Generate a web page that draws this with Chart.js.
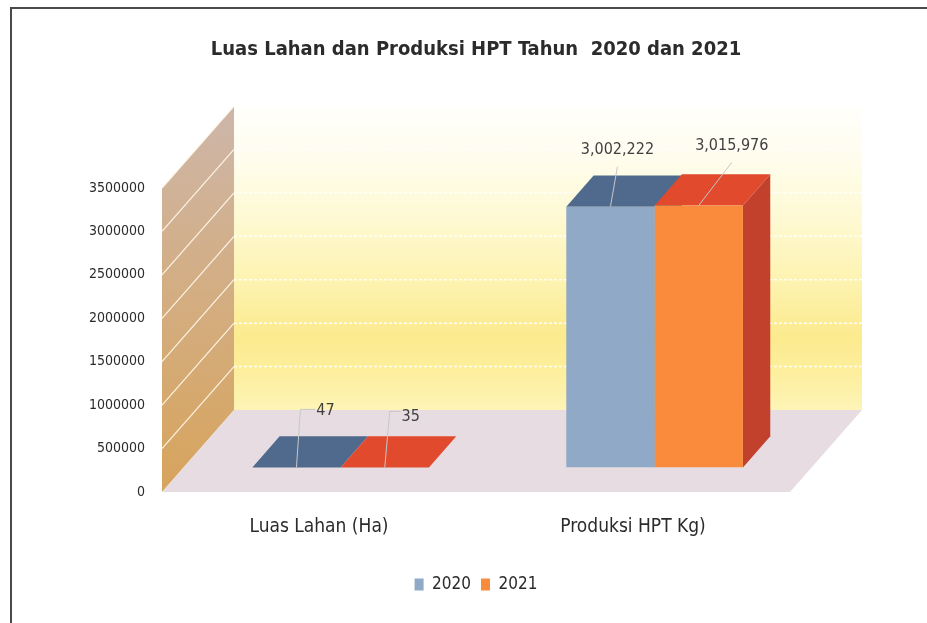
<!DOCTYPE html>
<html>
<head>
<meta charset="utf-8">
<script src="https://cdn.jsdelivr.net/npm/chart.js@4.4.0/dist/chart.umd.min.js"></script>
<style>
   html, body { margin: 0; padding: 0; background: #fff; }
</style>
</head>
<body>
<canvas id="myChart" width="927" height="623"></canvas>
<script>
"use strict";

// data
const categories = ["Luas Lahan (Ha)", "Produksi HPT Kg)"];
const seriesNames = ["2020", "2021"];
const values2020 = [47, 3002222];
const values2021 = [35, 3015976];
const yTickValues = [0, 500000, 1000000, 1500000, 2000000, 2500000, 3000000, 3500000];

const FONT = "'DejaVu Sans Condensed', 'Liberation Sans Narrow', 'Open Sans', sans-serif";
const TEXT = "#2b2b2b";

// 3d look: depth of the whole box and where the bars sit in it
const DEPTH_X = 72;
const DEPTH_Y = -82;
const BAR_FRONT = 0.3;
const BAR_DEPTH = 0.38;

const faceColors = [
   { front: "#8fa9c7", top: "#4f6a8c", side: "#45607f" },
   { front: "#fa8b3c", top: "#e24a2e", side: "#c2412d" },
];

// label positions relative to the front-top centre of each bar [dataset][category]
const labelOffsets = [
   [{ tx: 29, ty: -57, lx: 4, ly: -58 }, { tx: 7, ty: -57, lx: 7, ly: -40 }],
   [{ tx: 26, ty: -51, lx: 5, ly: -56 }, { tx: 33, ty: -60, lx: 33, ly: -43 }],
];

const poly = function (c, pts, fill) {
   c.beginPath();
   c.moveTo(pts[0][0], pts[0][1]);
   for (let i = 1; i < pts.length; i++) c.lineTo(pts[i][0], pts[i][1]);
   c.closePath();
   c.fillStyle = fill;
   c.fill();
};

const threeD = {
   id: "threeD",
   beforeDraw(chart) {
      const c = chart.ctx;
      c.save();
      c.fillStyle = "#ffffff";
      c.fillRect(0, 0, chart.width, chart.height);
      c.strokeStyle = "#4a4a4a";
      c.lineWidth = 2;
      c.strokeRect(11, 8, chart.width + 20, chart.height + 20);
      c.restore();
   },
   beforeDatasetsDraw(chart) {
      const c = chart.ctx;
      const a = chart.chartArea;
      const y = chart.scales.y;
      const top = y.getPixelForValue(yTickValues[yTickValues.length - 1]);
      const bottom = y.getPixelForValue(0);

      c.save();
      // back wall
      const g = c.createLinearGradient(0, top + DEPTH_Y, 0, bottom + DEPTH_Y);
      g.addColorStop(0, "#fffffb");
      g.addColorStop(0.15, "#fffdf0");
      g.addColorStop(0.35, "#fefad6");
      g.addColorStop(0.58, "#fdf3b0");
      g.addColorStop(0.76, "#fcea8e");
      g.addColorStop(0.88, "#fdef9f");
      g.addColorStop(1, "#fdf4b6");
      poly(c, [
         [a.left + DEPTH_X, top + DEPTH_Y],
         [a.right + DEPTH_X, top + DEPTH_Y],
         [a.right + DEPTH_X, bottom + DEPTH_Y],
         [a.left + DEPTH_X, bottom + DEPTH_Y],
      ], g);

      // side wall
      const s = c.createLinearGradient(0, top + DEPTH_Y, 0, bottom);
      s.addColorStop(0, "#cdb6a9");
      s.addColorStop(0.45, "#d3ae85");
      s.addColorStop(1, "#d7a45c");
      poly(c, [
         [a.left, top],
         [a.left + DEPTH_X, top + DEPTH_Y],
         [a.left + DEPTH_X, bottom + DEPTH_Y],
         [a.left, bottom],
      ], s);

      // floor
      poly(c, [
         [a.left, bottom],
         [a.right, bottom],
         [a.right + DEPTH_X, bottom + DEPTH_Y],
         [a.left + DEPTH_X, bottom + DEPTH_Y],
      ], "#e7dce1");

      // gridlines on the walls
      yTickValues.forEach((v) => {
         if (v === 0) return;
         const py = y.getPixelForValue(v);
         c.setLineDash([]);
         c.strokeStyle = "rgba(255,248,235,0.95)";
         c.lineWidth = 1.2;
         c.beginPath();
         c.moveTo(a.left, py);
         c.lineTo(a.left + DEPTH_X, py + DEPTH_Y);
         c.stroke();
         c.setLineDash([3, 2]);
         c.strokeStyle = "rgba(255,255,255,0.9)";
         c.lineWidth = 1.5;
         c.beginPath();
         c.moveTo(a.left + DEPTH_X, py + DEPTH_Y);
         c.lineTo(a.right + DEPTH_X, py + DEPTH_Y);
         c.stroke();
      });
      c.setLineDash([]);

      // side and top faces of the bars
      const fx = DEPTH_X * BAR_FRONT;
      const fy = DEPTH_Y * BAR_FRONT;
      const bx = DEPTH_X * BAR_DEPTH;
      const by = DEPTH_Y * BAR_DEPTH;
      chart.data.datasets.forEach((ds, i) => {
         chart.getDatasetMeta(i).data.forEach((bar) => {
            const l = bar.x - bar.width / 2 + fx;
            const r = bar.x + bar.width / 2 + fx;
            const t = bar.y + fy;
            const b = bar.base + fy;
            poly(c, [[r, t], [r + bx, t + by], [r + bx, b + by], [r, b]], faceColors[i].side);
            poly(c, [[l, t], [l + bx, t + by], [r + bx, t + by], [r, t]], faceColors[i].top);
         });
      });
      c.restore();

      // the front faces are drawn by chart.js, shifted into the box
      c.save();
      c.translate(fx, fy);
   },
   afterDatasetsDraw(chart) {
      const c = chart.ctx;
      c.restore();
      const fx = DEPTH_X * BAR_FRONT;
      const fy = DEPTH_Y * BAR_FRONT;
      c.save();
      c.font = "16px " + FONT;
      c.textAlign = "center";
      c.textBaseline = "middle";
      chart.data.datasets.forEach((ds, i) => {
         chart.getDatasetMeta(i).data.forEach((bar, j) => {
            const px = bar.x + fx;
            const py = bar.y + fy;
            const o = labelOffsets[i][j];
            const txt = ds.data[j].toLocaleString("en-US");
            const w = c.measureText(txt).width;
            c.strokeStyle = "#c8c8c8";
            c.lineWidth = 1;
            c.beginPath();
            c.moveTo(px, py);
            c.lineTo(px + o.lx, py + o.ly);
            if (o.tx - w / 2 > o.lx + 2) c.lineTo(px + o.tx - w / 2 - 1, py + o.ly);
            c.stroke();
            c.fillStyle = "#404040";
            c.fillText(txt, px + o.tx, py + o.ty);
         });
      });
      c.restore();
   },
};

const ctx = document.getElementById("myChart").getContext("2d");
const myChart = new Chart(ctx, {
   type: "bar",
   data: {
      labels: categories,
      datasets: [
         {
            label: seriesNames[0],
            data: values2020,
            backgroundColor: faceColors[0].front,
            borderWidth: 0,
         },
         {
            label: seriesNames[1],
            data: values2021,
            backgroundColor: faceColors[1].front,
            borderWidth: 0,
         },
      ],
   },
   options: {
      responsive: false,
      animation: false,
      devicePixelRatio: 1,
      layout: {
         padding: { left: 62, right: 37, top: 0, bottom: 20 },
      },
      datasets: {
         bar: {
            barPercentage: 1,
            categoryPercentage: 0.5625,
         },
      },
      scales: {
         x: {
            grid: { display: false, drawTicks: false },
            border: { display: false },
            ticks: {
               padding: 24,
               color: TEXT,
               font: { family: FONT, size: 19 },
            },
            afterFit(scale) {
               scale.height = 74;
            },
         },
         y: {
            min: 0,
            max: 3500000,
            grid: { display: false, drawTicks: false },
            border: { display: false },
            ticks: {
               stepSize: 500000,
               padding: 17,
               color: TEXT,
               font: { family: FONT, size: 14 },
               callback: (v) => String(v),
            },
            afterFit(scale) {
               scale.width = 100;
            },
         },
         // empty axis on the right so the title and legend stay centred
         yRight: {
            type: "linear",
            position: "right",
            min: 0,
            max: 3500000,
            grid: { display: false, drawTicks: false },
            border: { display: false },
            ticks: { display: false },
            afterFit(scale) {
               scale.width = 100;
            },
         },
      },
      plugins: {
         title: {
            display: true,
            text: "Luas Lahan dan Produksi HPT Tahun  2020 dan 2021",
            color: TEXT,
            font: { family: FONT, size: 20, weight: "bold" },
            padding: { top: 38, bottom: 126 },
         },
         legend: {
            position: "bottom",
            labels: {
               boxWidth: 9,
               boxHeight: 12,
               padding: 10,
               color: TEXT,
               font: { family: FONT, size: 17 },
            },
         },
         tooltip: { enabled: false },
      },
   },
   plugins: [threeD],
});
</script>
</body>
</html>
